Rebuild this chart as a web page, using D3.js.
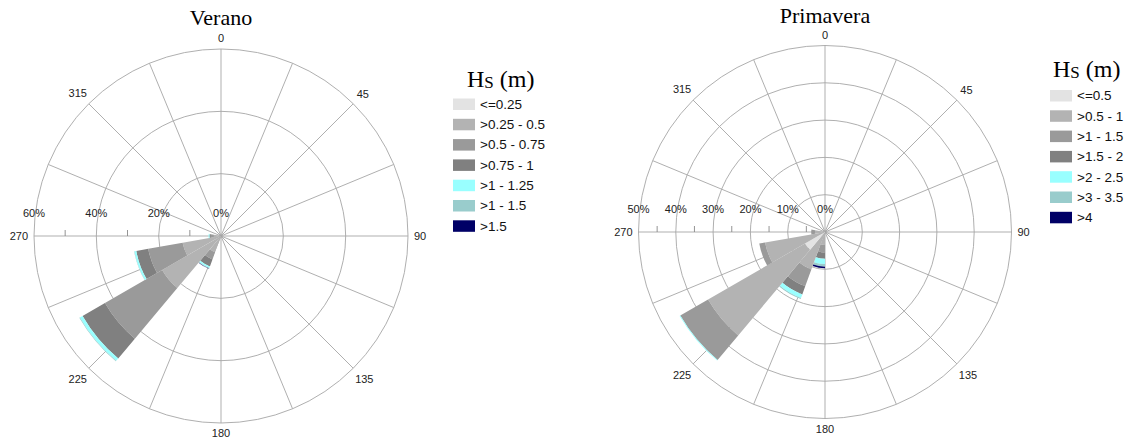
<!DOCTYPE html>
<html>
<head>
<meta charset="utf-8">
<script src="https://cdn.jsdelivr.net/npm/d3@7"></script>
<style>
  html, body { margin: 0; padding: 0; background: #fff; }
  svg { display: block; }
</style>
</head>
<body>
<svg id="chart" width="1135" height="444"></svg>
<script>
// ---------------- DATA ----------------
// Direction bins (centre of 20-degree sector, degrees from north, clockwise)
const veranoDirections = [210, 230, 250, 270];
const veranoClasses = ["<=0.25", ">0.25 - 0.5", ">0.5 - 0.75", ">0.75 - 1", ">1 - 1.25", ">1 - 1.5", ">1.5"];
// Frequency (%) per class, per direction
const veranoC1 = [0.1, 0.3, 0.2, 0.1];
const veranoC2 = [5.4, 21.5, 12.3, 2.2];
const veranoC3 = [2.5, 21.2, 11.2, 1.0];
const veranoC4 = [2.4, 8.3, 3.9, 0.4];
const veranoC5 = [0.5, 1.0, 0.6, 0.3];
const veranoC6 = [0.2, 0.2, 0.1, 0.0];
const veranoC7 = [0.1, 0.0, 0.0, 0.0];
const veranoRings = [20, 40, 60];
const veranoTicks = [10, 30, 50];

const primaveraDirections = [190, 210, 230, 250, 270];
const primaveraClasses = ["<=0.5", ">0.5 - 1", ">1 - 1.5", ">1.5 - 2", ">2 - 2.5", ">3 - 3.5", ">4"];
const primaveraC1 = [0.2, 0.3, 6.2, 0.3, 0.3];
const primaveraC2 = [3.3, 10.4, 30.0, 16.0, 2.4];
const primaveraC3 = [2.0, 4.8, 8.6, 1.6, 1.0];
const primaveraC4 = [1.7, 2.3, 0.0, 0.0, 0.0];
const primaveraC5 = [1.4, 1.0, 0.2, 0.0, 0.0];
const primaveraC6 = [0.7, 0.3, 0.0, 0.0, 0.0];
const primaveraC7 = [0.4, 0.0, 0.0, 0.0, 0.0];
const primaveraRings = [10, 20, 30, 40, 50];
const primaveraTicks = [5, 15, 25, 35, 45];

const compassLabels = [0, 45, 90, 135, 180, 225, 270, 315];
const spokeAngles = d3.range(0, 360, 22.5);
const classColors = ["#e3e3e3", "#b3b3b3", "#9a9a9a", "#808080", "#99ffff", "#99cccc", "#000066"];
const binWidth = 20;

// ---------------- DRAW ----------------
const svg = d3.select("#chart");
const rad = d => d * Math.PI / 180;

function drawRose(cfg) {
  const g = svg.append("g").attr("transform", `translate(${cfg.cx},${cfg.cy})`);
  const r = d3.scaleLinear().domain([0, cfg.max]).range([0, cfg.radius]);
  const gridColor = "#a6a6a6";

  // rings
  g.selectAll("circle.ring").data(cfg.rings).join("circle")
    .attr("class", "ring").attr("r", d => r(d))
    .attr("fill", "none").attr("stroke", gridColor).attr("stroke-width", 0.9);

  // spokes
  g.selectAll("line.spoke").data(spokeAngles).join("line")
    .attr("class", "spoke")
    .attr("x1", 0).attr("y1", 0)
    .attr("x2", d => r(cfg.max) * Math.sin(rad(d)))
    .attr("y2", d => -r(cfg.max) * Math.cos(rad(d)))
    .attr("stroke", gridColor).attr("stroke-width", 0.9);

  // ticks on the 270 axis
  g.selectAll("line.tick").data(cfg.ticks).join("line")
    .attr("class", "tick")
    .attr("x1", d => -r(d)).attr("x2", d => -r(d))
    .attr("y1", 0).attr("y2", -6)
    .attr("stroke", "#888").attr("stroke-width", 0.9);

  // petals (stacked)
  const series = cfg.series;
  const arc = d3.arc();
  cfg.directions.forEach((dir, i) => {
    let acc = 0;
    series.forEach((s, k) => {
      const v = s[i];
      if (v <= 0) return;
      const inner = acc, outer = acc + v;
      acc = outer;
      g.append("path")
        .attr("d", arc({
          innerRadius: r(inner), outerRadius: r(outer),
          startAngle: rad(dir - binWidth / 2), endAngle: rad(dir + binWidth / 2)
        }))
        .attr("fill", classColors[k]);
    });
  });

  // ring labels (percent)
  g.selectAll("text.pct").data([0].concat(cfg.rings)).join("text")
    .attr("class", "pct")
    .attr("x", d => -r(d)).attr("y", -19)
    .attr("text-anchor", "middle")
    .attr("font-family", "Liberation Sans, Arial, sans-serif")
    .attr("font-size", 11).attr("fill", "#222")
    .text(d => d + "%");

  // compass labels
  compassLabels.forEach(a => {
    const t = g.append("text")
      .attr("font-family", "Liberation Sans, Arial, sans-serif")
      .attr("font-size", 11).attr("fill", "#222")
      .attr("text-anchor", "middle").attr("dy", "0.35em")
      .text(a);
    const bb = t.node().getBBox();
    const s = Math.sin(rad(a)), c = Math.cos(rad(a));
    const off = r(cfg.max) + 6 + Math.abs(s) * bb.width / 2 + Math.abs(c) * 4.5;
    t.attr("x", off * s).attr("y", -off * c);
  });

  // title
  svg.append("text")
    .attr("x", cfg.cx).attr("y", cfg.titleY)
    .attr("text-anchor", "middle")
    .attr("font-family", "Liberation Serif, Times New Roman, serif")
    .attr("font-size", 22).attr("fill", "#000")
    .text(cfg.title);

  // legend
  const lg = svg.append("g").attr("transform", `translate(${cfg.lx},${cfg.ly})`);
  const ht = lg.append("text")
    .attr("x", cfg.lhx - cfg.lx).attr("y", cfg.lhy - cfg.ly)
    .attr("font-family", "Liberation Serif, Times New Roman, serif")
    .attr("fill", "#000");
  ht.append("tspan").attr("font-size", 24).text("H");
  ht.append("tspan").attr("font-size", 17).attr("dy", 1).text("S");
  ht.append("tspan").attr("font-size", 24).attr("dy", -1).text(" (m)");

  const rows = lg.selectAll("g.row").data(cfg.classes).join("g")
    .attr("class", "row")
    .attr("transform", (d, i) => `translate(0,${i * 20.3})`);
  rows.append("rect")
    .attr("x", 0).attr("y", -5.5).attr("width", 22).attr("height", 11.5)
    .attr("fill", (d, i) => classColors[i]);
  rows.append("text")
    .attr("x", 27).attr("y", 0).attr("dy", "0.36em")
    .attr("font-family", "Liberation Sans, Arial, sans-serif")
    .attr("font-size", 13.5).attr("fill", "#111")
    .text(d => d);
}

drawRose({
  title: "Verano", titleY: 25,
  cx: 221, cy: 236, radius: 187, max: 60,
  rings: veranoRings, ticks: veranoTicks,
  directions: veranoDirections,
  series: [veranoC1, veranoC2, veranoC3, veranoC4, veranoC5, veranoC6, veranoC7],
  classes: veranoClasses,
  lx: 453, ly: 104, lhx: 467, lhy: 87
});

drawRose({
  title: "Primavera", titleY: 23,
  cx: 825, cy: 232, radius: 186.5, max: 50,
  rings: primaveraRings, ticks: primaveraTicks,
  directions: primaveraDirections,
  series: [primaveraC1, primaveraC2, primaveraC3, primaveraC4, primaveraC5, primaveraC6, primaveraC7],
  classes: primaveraClasses,
  lx: 1050, ly: 95.5, lhx: 1053, lhy: 77
});
</script>
</body>
</html>
